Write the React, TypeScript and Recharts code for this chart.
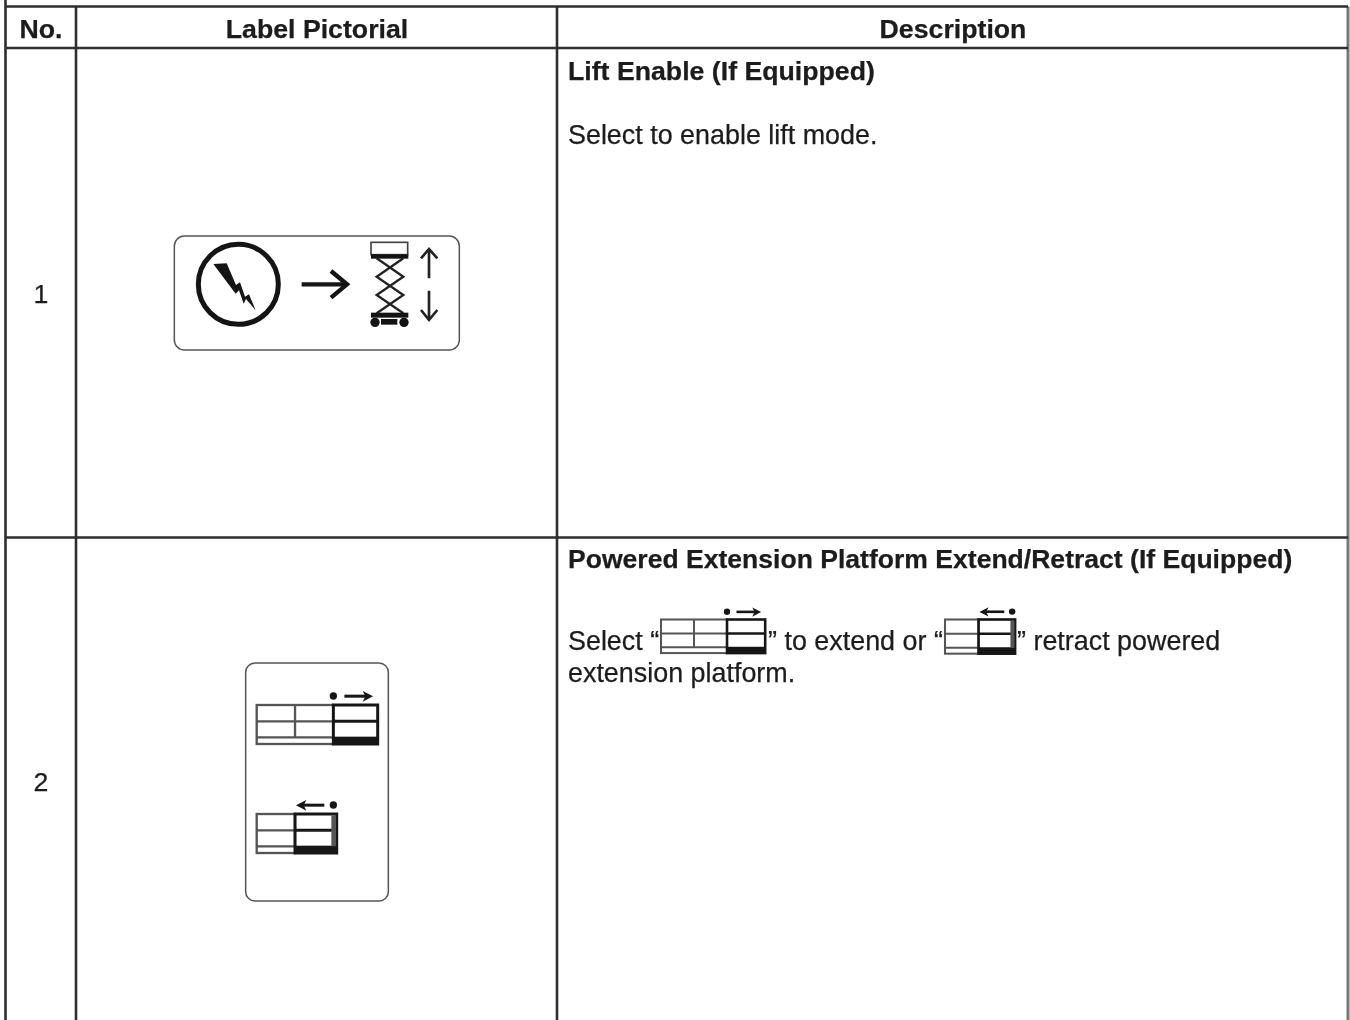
import { ReferenceLine, Scatter, ScatterChart, XAxis, YAxis } from 'recharts'

// table content
const headers = ['No.', 'Label Pictorial', 'Description']
const rowNumbers = ['1', '2']
const rowTitles = ['Lift Enable (If Equipped)', 'Powered Extension Platform Extend/Retract (If Equipped)']
const liftBody = 'Select to enable lift mode.'
const extensionBody = ['Select “', '” to extend or “', '” retract powered', 'extension platform.']

// table rules
const columnEdges = [5.5, 76, 557, 1348]
const rowEdges = [6.5, 48, 537.5]

const WIDTH = 1350
const HEIGHT = 1020
const INK = '#1c1c1c'
const RULE = '#2e2e2e'
const FONT = '"Liberation Sans", Arial, sans-serif'

type TextPoint = { x: number; y: number; text: string; bold?: boolean; anchor?: 'middle' | 'start'; size?: number }

const textPoints: TextPoint[] = [
  { x: 41, y: 38, text: headers[0], bold: true, anchor: 'middle' },
  { x: 317, y: 38, text: headers[1], bold: true, anchor: 'middle' },
  { x: 953, y: 38, text: headers[2], bold: true, anchor: 'middle' },
  { x: 41, y: 303, text: rowNumbers[0], anchor: 'middle' },
  { x: 41, y: 791, text: rowNumbers[1], anchor: 'middle' },
  { x: 568, y: 80, text: rowTitles[0], bold: true },
  { x: 568, y: 144, text: liftBody, size: 26.9 },
  { x: 568, y: 568, text: rowTitles[1], bold: true, size: 26.55 },
  { x: 568, y: 650, text: extensionBody[0], size: 26.9 },
  { x: 768, y: 650, text: extensionBody[1], size: 26.9 },
  { x: 1017, y: 650, text: extensionBody[2], size: 26.9 },
  { x: 568, y: 682, text: extensionBody[3], size: 26.9 },
]

function TextMark({ cx, cy, payload }: any) {
  return (
    <text
      x={cx}
      y={cy}
      textAnchor={payload.anchor ?? 'start'}
      fontFamily={FONT}
      fontSize={payload.size ?? 26.7}
      fontWeight={payload.bold ? 700 : 400}
      fill={INK}
      stroke={INK}
      strokeWidth={0.25}
    >
      {payload.text}
    </text>
  )
}

// grid pictogram, drawn at 3x and scaled down. wide = three bays, otherwise two
function BayGrid({ wide }: { wide: boolean }) {
  const w = wide ? 363 : 240
  const split = wide ? 230 : 115
  const gray = '#555'
  const dark = '#161616'
  return (
    <g>
      <rect x={0} y={0} width={split} height={117} fill="#fff" stroke={gray} strokeWidth={7} />
      <line x1={0} x2={split} y1={49} y2={49} stroke={gray} strokeWidth={7} />
      <line x1={0} x2={split} y1={97} y2={97} stroke={gray} strokeWidth={7} />
      {wide && <line x1={115} x2={115} y1={0} y2={97} stroke={gray} strokeWidth={7} />}
      <rect x={split} y={0} width={w - split} height={117} fill="#fff" stroke={dark} strokeWidth={9} />
      <line x1={split} x2={w} y1={49} y2={49} stroke={dark} strokeWidth={9} />
      <rect x={split} y={95} width={w - split} height={22} fill={dark} />
      {wide ? (
        <g fill={dark} stroke="none">
          <circle cx={230} cy={-27} r={11} />
          <rect x={263} y={-31} width={72} height={9} />
          <path d="M318 -42 L349 -26 L318 -10 L326 -26 Z" />
        </g>
      ) : (
        <g fill={dark} stroke="none">
          <circle cx={230} cy={-27} r={11} />
          <rect x={135} y={-31} width={68} height={9} />
          <path d="M149 -42 L118 -26 L149 -10 L141 -26 Z" />
        </g>
      )}
      {!wide && <rect x={224} y={4} width={14} height={93} fill={gray} />}
    </g>
  )
}

function LiftLabel() {
  return (
    <g>
      <rect x={28} y={33} width={855} height={342} rx={30} fill="#fff" stroke="#555" strokeWidth={4.5} />
      <circle cx={220} cy={178} r={120} fill="none" stroke="#141414" strokeWidth={15} />
      <path d="M145 117 L185 115 L213 180 L225 172 L240 215 L252 208 L272 256 L243 222 L236 236 L222 196 L212 206 Z" fill="#141414" />
      <line x1={410} x2={545} y1={178} y2={178} stroke="#141414" strokeWidth={13} />
      <path d="M498 138 L546 178 L498 218" fill="none" stroke="#141414" strokeWidth={13} />
      <rect x={618} y={52} width={110} height={37} fill="#fff" stroke="#444" strokeWidth={5} />
      <rect x={618} y={88} width={112} height={13} fill="#141414" />
      <path d="M715 100 L635 155 L715 210 L635 265 M635 100 L715 155 L635 210 L715 265" fill="none" stroke="#222" strokeWidth={7} />
      <rect x={618} y={263} width={112} height={15} fill="#141414" />
      <circle cx={630} cy={292} r={14} fill="#141414" />
      <circle cx={717} cy={292} r={14} fill="#141414" />
      <rect x={648} y={282} width={49} height={17} fill="#141414" />
      <path d="M792 160 L792 74 M768 100 L792 72 L817 100" fill="none" stroke="#222" strokeWidth={8} />
      <path d="M792 197 L792 284 M768 255 L792 285 L817 255" fill="none" stroke="#222" strokeWidth={8} />
    </g>
  )
}

function ExtensionLabel() {
  return <rect x={32} y={24} width={428} height={714} rx={28} fill="#fff" stroke="#555" strokeWidth={4.5} />
}

const pictorialPoints = [
  { x: 165, y: 225, kind: 'lift' },
  { x: 235, y: 655, kind: 'extension' },
]

const gridPoints = [
  { x: 256.7, y: 705, wide: true, scale: 1 / 3 },
  { x: 256.7, y: 814, wide: false, scale: 1 / 3 },
  { x: 661, y: 619.5, wide: true, scale: 0.287 },
  { x: 945, y: 619.5, wide: false, scale: 0.292 },
]

function PictorialMark({ cx, cy, payload }: any) {
  return (
    <g transform={`translate(${cx} ${cy}) scale(${1 / 3})`}>
      {payload.kind === 'lift' ? <LiftLabel /> : <ExtensionLabel />}
    </g>
  )
}

function GridMark({ cx, cy, payload }: any) {
  return (
    <g transform={`translate(${cx} ${cy}) scale(${payload.scale})`}>
      <BayGrid wide={payload.wide} />
    </g>
  )
}

export default function App() {
  const right = columnEdges[columnEdges.length - 1]
  return (
    <div
      style={{
        position: 'absolute',
        left: 0,
        top: 0,
        width: WIDTH,
        height: HEIGHT,
        background: '#fff',
        filter: 'blur(0.35px)',
      }}
    >
      <ScatterChart width={WIDTH} height={HEIGHT} margin={{ top: 0, right: 0, bottom: 0, left: 0 }}>
        <XAxis type="number" dataKey="x" domain={[0, WIDTH]} hide />
        <YAxis type="number" dataKey="y" domain={[0, HEIGHT]} reversed hide />
        {/* outer verticals run the full page, inner ones start at the top rule */}
        {columnEdges.map((x, i) => (
          <ReferenceLine
            key={x}
            segment={[
              { x, y: i === 0 ? 0 : rowEdges[0] },
              { x, y: HEIGHT },
            ]}
            stroke={i === columnEdges.length - 1 ? '#777' : RULE}
            strokeWidth={i === columnEdges.length - 1 ? 3 : 2.6}
            ifOverflow="visible"
          />
        ))}
        {rowEdges.map((y) => (
          <ReferenceLine
            key={y}
            segment={[
              { x: columnEdges[0], y },
              { x: right, y },
            ]}
            stroke={RULE}
            strokeWidth={2.6}
            ifOverflow="visible"
          />
        ))}
        <Scatter data={pictorialPoints} shape={PictorialMark} isAnimationActive={false} />
        <Scatter data={gridPoints} shape={GridMark} isAnimationActive={false} />
        <Scatter data={textPoints} shape={TextMark} isAnimationActive={false} />
      </ScatterChart>
    </div>
  )
}
